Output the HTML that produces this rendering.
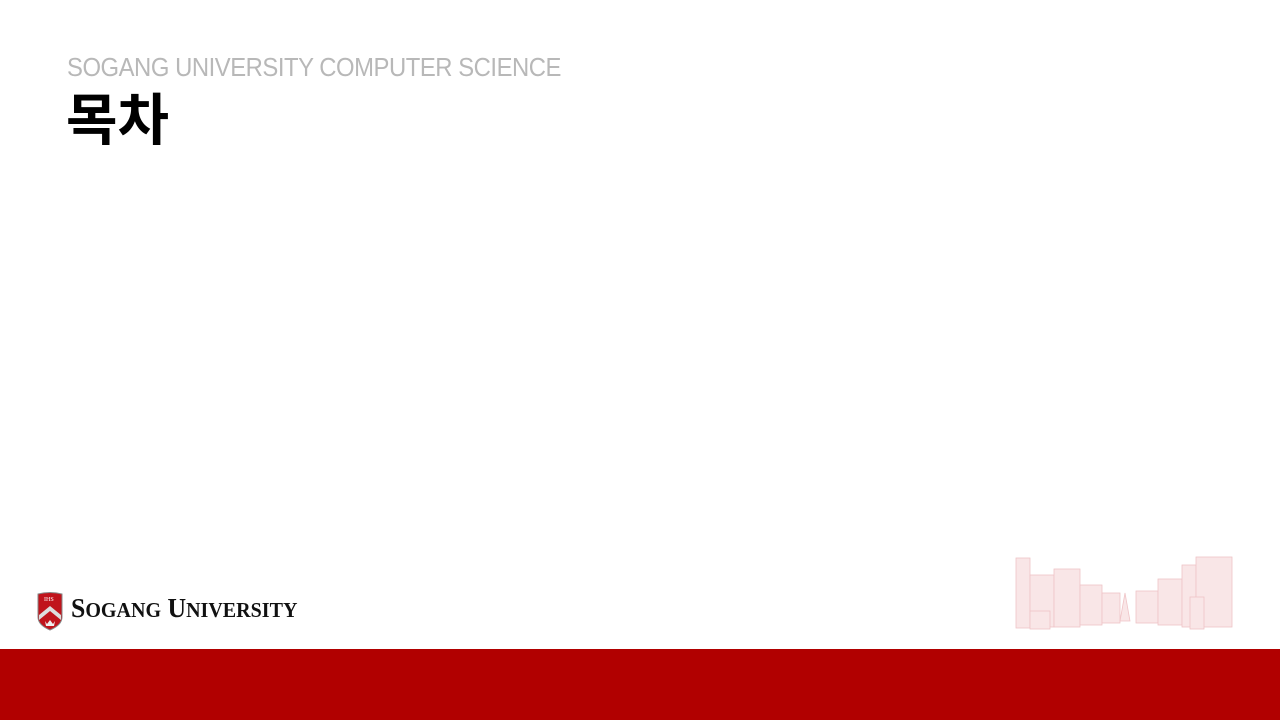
<!DOCTYPE html>
<html><head><meta charset="utf-8">
<style>
html,body{margin:0;padding:0;}
body{width:1280px;height:720px;position:relative;background:#fff;overflow:hidden;font-family:"Liberation Sans","Noto Sans CJK KR",sans-serif;}
.sub{position:absolute;left:67px;top:52px;font-size:26px;color:#b8b8b8;font-weight:300;letter-spacing:-0.5px;white-space:nowrap;transform:scaleX(0.917);transform-origin:left;}
.title{position:absolute;left:66px;top:76px;font-size:56px;font-weight:bold;color:#000;font-family:"Noto Sans CJK KR","NanumGothic",sans-serif;}
.bar{position:absolute;left:0;top:649px;width:1280px;height:71px;background:#b10000;}
.logo-text{position:absolute;left:71px;top:593px;font-family:"Liberation Serif",serif;font-weight:bold;font-size:27px;color:#111;letter-spacing:0px;white-space:nowrap;transform:scaleX(0.954);transform-origin:left;}
.logo-text small{font-size:21px;}
</style></head>
<body>
<div class="sub">SOGANG UNIVERSITY COMPUTER SCIENCE</div>
<div class="title">목차</div>

<svg style="position:absolute;left:36px;top:591px" width="28" height="40" viewBox="0 0 28 40">
<path d="M2 3 Q14 0 26 3 L26 26 Q26 34 14 39 Q2 34 2 26 Z" fill="#c0141c" stroke="#888" stroke-width="1"/>
<path d="M3 24 L14 15 L25 24 L25 29 L14 20 L3 29 Z" fill="#ddd"/>
<text x="8" y="10" font-size="6" fill="#fff" font-family="Liberation Serif">IHS</text>
<path d="M9 30 L11 33 L14 29 L17 33 L19 30 L18 35 L10 35 Z" fill="#eee"/>
</svg>
<div class="logo-text">S<small>OGANG</small> U<small>NIVERSITY</small></div>

<svg style="position:absolute;left:1010px;top:553px" width="225" height="80" viewBox="0 0 225 80">
<g fill="#f9e6e7" stroke="#efc4c7" stroke-width="0.8">
<rect x="6" y="5" width="14" height="70"/>
<rect x="20" y="22" width="24" height="52"/>
<rect x="44" y="16" width="26" height="58"/>
<rect x="70" y="32" width="22" height="40"/>
<rect x="92" y="40" width="18" height="30"/>
<path d="M110 68 L115 40 L120 68 Z"/>
<rect x="126" y="38" width="22" height="32"/>
<rect x="148" y="26" width="24" height="46"/>
<rect x="172" y="12" width="14" height="62"/>
<rect x="186" y="4" width="36" height="70"/>
<rect x="20" y="58" width="20" height="18"/>
<rect x="180" y="44" width="14" height="32"/>
</g>
</svg>

<div class="bar"></div>
</body></html>
